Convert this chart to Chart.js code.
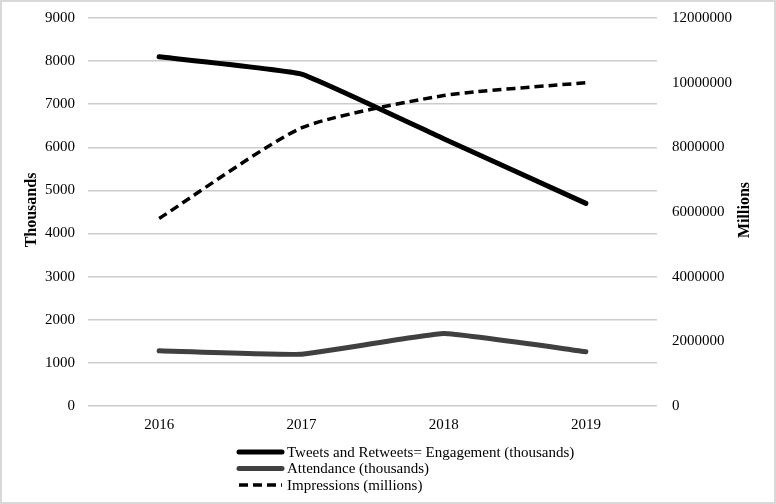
<!DOCTYPE html>
<html>
<head>
<meta charset="utf-8">
<script src="https://cdn.jsdelivr.net/npm/chart.js@4"></script>
<style>
  html, body { margin: 0; padding: 0; background: #fff; }
  #wrap { width: 776px; height: 504px; position: relative; }
</style>
</head>
<body>
<div id="wrap"><canvas id="chart"></canvas></div>
<script>
const years = ["2016", "2017", "2018", "2019"];
const tweets = [8100, 7700, 6200, 4700];
const attendance = [1280, 1200, 1680, 1260];
const impressions = [5800000, 8600000, 9600000, 10000000];
const seriesNames = [
  "Tweets and Retweets= Engagement (thousands)",
  "Attendance (thousands)",
  "Impressions (millions)"
];
const leftTitle = "Thousands";
const rightTitle = "Millions";

const FONT = "'Liberation Serif', 'Times New Roman', serif";
const plain = (v) => String(v);

const extras = {
  id: "extras",
  afterDraw(chart) {
    const ctx = chart.ctx;
    const area = chart.chartArea;
    const midY = (area.top + area.bottom) / 2 - 2;
    ctx.save();
    // frame
    ctx.strokeStyle = "#d9d9d9";
    ctx.lineWidth = 2;
    ctx.strokeRect(1, 1, chart.width - 2, chart.height - 2);
    // axis titles
    ctx.fillStyle = "#000";
    ctx.font = "bold 16px " + FONT;
    ctx.textAlign = "center";
    ctx.textBaseline = "middle";
    [[32, leftTitle], [745, rightTitle]].forEach(([x, t]) => {
      ctx.save();
      ctx.translate(x, midY);
      ctx.rotate(-Math.PI / 2);
      ctx.fillText(t, 0, 0);
      ctx.restore();
    });
    // legend
    ctx.font = "15px " + FONT;
    ctx.textAlign = "left";
    chart.data.datasets.forEach((ds, i) => {
      const y = 452 + i * 16.5;
      ctx.beginPath();
      ctx.strokeStyle = ds.borderColor;
      ctx.lineWidth = ds.borderWidth;
      ctx.lineCap = ds.borderDash ? "butt" : "round";
      ctx.setLineDash(ds.borderDash || []);
      ctx.moveTo(239, y);
      ctx.lineTo(282, y);
      ctx.stroke();
      ctx.setLineDash([]);
      ctx.fillStyle = "#000";
      ctx.fillText(ds.label, 287, y + 1);
    });
    ctx.restore();
  }
};

const fitV = (w) => (s) => {
  s.width = w;
  s.paddingTop = 0;
  s.paddingBottom = 0;
};

new Chart(document.getElementById("chart"), {
  type: "line",
  data: {
    labels: years,
    datasets: [
      {
        label: seriesNames[0],
        data: tweets,
        yAxisID: "y",
        borderColor: "#000000",
        borderWidth: 5,
        borderCapStyle: "round",
        borderJoinStyle: "round",
        pointRadius: 0,
        tension: 0.1
      },
      {
        label: seriesNames[1],
        data: attendance,
        yAxisID: "y",
        borderColor: "#404040",
        borderWidth: 5,
        borderCapStyle: "round",
        borderJoinStyle: "round",
        pointRadius: 0,
        tension: 0.1
      },
      {
        label: seriesNames[2],
        data: impressions,
        yAxisID: "y2",
        borderColor: "#000000",
        borderWidth: 3.5,
        borderDash: [9, 5],
        pointRadius: 0,
        tension: 0.2
      }
    ]
  },
  options: {
    responsive: true,
    maintainAspectRatio: false,
    animation: false,
    layout: { padding: { top: 18, left: 0, right: 0, bottom: 0 } },
    plugins: {
      legend: { display: false },
      tooltip: { enabled: false }
    },
    scales: {
      x: {
        offset: true,
        grid: { display: false, drawTicks: false },
        border: { display: false },
        ticks: { color: "#000", font: { family: FONT, size: 15 }, padding: 10 },
        afterFit: (s) => { s.height = 98; s.paddingLeft = 0; s.paddingRight = 0; }
      },
      y: {
        position: "left",
        min: 0,
        max: 9000,
        ticks: { stepSize: 1000, callback: plain, color: "#000", font: { family: FONT, size: 15 }, padding: 13 },
        grid: { color: "#cccccc", lineWidth: 1.5, drawTicks: false },
        border: { display: false },
        afterFit: fitV(88)
      },
      y2: {
        position: "right",
        min: 0,
        max: 12000000,
        ticks: { stepSize: 2000000, callback: plain, color: "#000", font: { family: FONT, size: 15 }, padding: 15 },
        grid: { drawOnChartArea: false, drawTicks: false },
        border: { display: false },
        afterFit: fitV(119)
      }
    }
  },
  plugins: [extras]
});
</script>
</body>
</html>
